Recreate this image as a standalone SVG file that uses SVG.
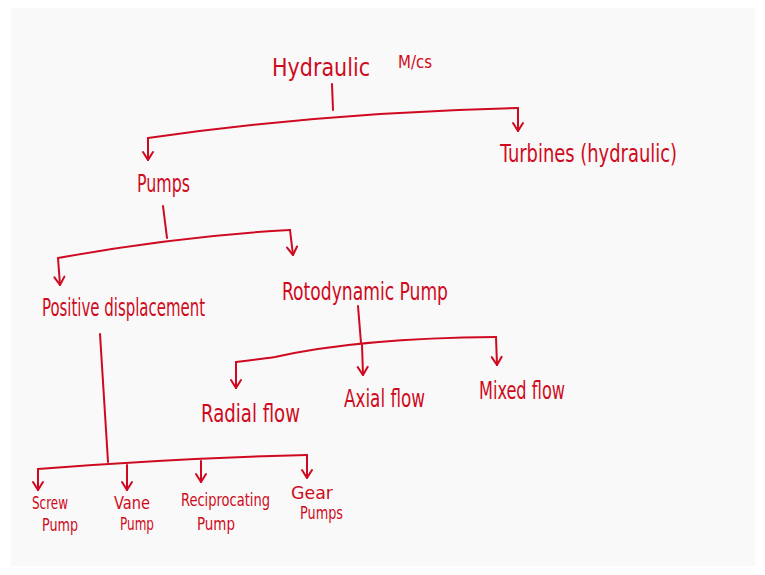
<svg xmlns="http://www.w3.org/2000/svg" width="765" height="575" viewBox="0 0 765 575">
  <defs>
    <marker id="arrow" viewBox="-10 -8 12 16" markerWidth="12" markerHeight="16" refX="0" refY="0" orient="auto" markerUnits="userSpaceOnUse">
      <path d="M-8,-5 L0,0 L-8,5" fill="none" stroke="#cf0a20" stroke-width="2" stroke-linecap="round" stroke-linejoin="round"/>
    </marker>
    <style>
      .lbl { font-family: "DejaVu Sans Condensed", "Liberation Sans", sans-serif; fill: #cf0a20; font-size: 24px; }
      .sm { font-size: 18px; }
      .wire { fill: none; stroke: #cf0a20; stroke-width: 2; stroke-linecap: round; stroke-linejoin: round; }
      .arr { marker-end: url(#arrow); }
    </style>
  </defs>

  <rect width="765" height="575" fill="#ffffff"/>
  <rect x="11" y="8" width="744" height="558" fill="#f9f9f9"/>

  <!-- connectors -->
  <g id="connectors">
    <!-- root -->
    <path class="wire" d="M332,84 L333,110"/>
    <path class="wire arr" d="M148,138 L148,160"/>
    <path class="wire" d="M148,138 Q330,112 518,108"/>
    <path class="wire arr" d="M518,108 L518,131"/>
    <!-- pumps -->
    <path class="wire" d="M163,206 L167,238"/>
    <path class="wire" d="M58,258 Q180,236 290,230"/>
    <path class="wire arr" d="M58,258 L60,285"/>
    <path class="wire arr" d="M290,230 L293,255"/>
    <!-- rotodynamic -->
    <path class="wire" d="M358,306 L361,343"/>
    <path class="wire" d="M236,362 Q262,359 275,357 Q360,338 496,337"/>
    <path class="wire arr" d="M236,362 L236,388"/>
    <path class="wire arr" d="M362,345 L363,375"/>
    <path class="wire arr" d="M496,337 L497,365"/>
    <!-- positive displacement -->
    <path class="wire" d="M100,334 L108,462"/>
    <path class="wire" d="M38,469 Q180,458 307,455"/>
    <path class="wire arr" d="M38,469 L38,490"/>
    <path class="wire arr" d="M127,465 L127,490"/>
    <path class="wire arr" d="M201,461 L201,482"/>
    <path class="wire arr" d="M307,455 L307,478"/>
  </g>

  <g id="hydraulic-mcs">
    <text class="lbl" x="272" y="76" textLength="98" lengthAdjust="spacingAndGlyphs">Hydraulic</text>
    <text class="lbl sm" x="398" y="68" textLength="34" lengthAdjust="spacingAndGlyphs">M/cs</text>
  </g>
  <g id="turbines">
    <text class="lbl" x="500" y="162" textLength="177" lengthAdjust="spacingAndGlyphs">Turbines (hydraulic)</text>
  </g>
  <g id="pumps">
    <text class="lbl" x="137" y="192" textLength="53" lengthAdjust="spacingAndGlyphs">Pumps</text>
  </g>
  <g id="positive-displacement">
    <text class="lbl" x="42" y="316" textLength="163" lengthAdjust="spacingAndGlyphs">Positive displacement</text>
  </g>
  <g id="rotodynamic-pump">
    <text class="lbl" x="282" y="300" textLength="166" lengthAdjust="spacingAndGlyphs">Rotodynamic Pump</text>
  </g>
  <g id="radial-flow">
    <text class="lbl" x="201" y="422" textLength="99" lengthAdjust="spacingAndGlyphs">Radial flow</text>
  </g>
  <g id="axial-flow">
    <text class="lbl" x="344" y="407" textLength="81" lengthAdjust="spacingAndGlyphs">Axial flow</text>
  </g>
  <g id="mixed-flow">
    <text class="lbl" x="479" y="399" textLength="86" lengthAdjust="spacingAndGlyphs">Mixed flow</text>
  </g>
  <g id="screw-pump">
    <text class="lbl sm" x="32" y="509" textLength="36" lengthAdjust="spacingAndGlyphs">Screw</text>
    <text class="lbl sm" x="42" y="531" textLength="36" lengthAdjust="spacingAndGlyphs">Pump</text>
  </g>
  <g id="vane-pump">
    <text class="lbl sm" x="114" y="509" textLength="36" lengthAdjust="spacingAndGlyphs">Vane</text>
    <text class="lbl sm" x="120" y="530" textLength="34" lengthAdjust="spacingAndGlyphs">Pump</text>
  </g>
  <g id="reciprocating-pump">
    <text class="lbl sm" x="181" y="506" textLength="89" lengthAdjust="spacingAndGlyphs">Reciprocating</text>
    <text class="lbl sm" x="197" y="530" textLength="38" lengthAdjust="spacingAndGlyphs">Pump</text>
  </g>
  <g id="gear-pumps">
    <text class="lbl sm" x="291" y="499" textLength="42" lengthAdjust="spacingAndGlyphs">Gear</text>
    <text class="lbl sm" x="300" y="519" textLength="43" lengthAdjust="spacingAndGlyphs">Pumps</text>
  </g>
</svg>
